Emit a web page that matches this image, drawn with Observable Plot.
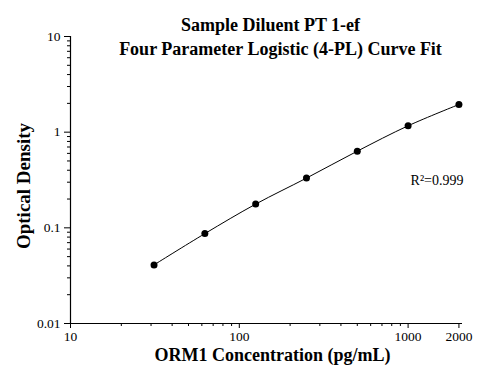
<!DOCTYPE html>
<html>
<head>
<meta charset="utf-8">
<script src="https://cdn.jsdelivr.net/npm/d3@7"></script>
<script src="https://cdn.jsdelivr.net/npm/@observablehq/plot@0.6"></script>
<style>
  html, body { margin: 0; padding: 0; background: #fff; }
</style>
</head>
<body>
<div id="chart"></div>
<script>
const titleLines = ["Sample Diluent PT 1-ef", "Four Parameter Logistic (4-PL) Curve Fit"];
const xLabel = "ORM1 Concentration (pg/mL)";
const yLabel = "Optical Density";
const rSquared = "R²=0.999";

const concentration = [31.25, 62.5, 125, 250, 500, 1000, 2000];
const opticalDensity = [0.041, 0.087, 0.177, 0.331, 0.633, 1.166, 1.946];

const xMajorTicks = [10, 100, 1000, 2000];
const xMinorTicks = [20, 30, 40, 50, 60, 70, 80, 90, 200, 300, 400, 500, 600, 700, 800, 900];
const yMajorTicks = [0.01, 0.1, 1, 10];
const yMinorTicks = [0.02, 0.03, 0.04, 0.05, 0.06, 0.07, 0.08, 0.09,
                     0.2, 0.3, 0.4, 0.5, 0.6, 0.7, 0.8, 0.9,
                     2, 3, 4, 5, 6, 7, 8, 9];

const data = concentration.map((c, i) => ({c, od: opticalDensity[i]}));

const chart = Plot.plot({
  width: 498,
  height: 381,
  marginLeft: 70,
  marginRight: 36,
  marginTop: 36,
  marginBottom: 58,
  style: {fontFamily: "'Liberation Serif', 'Times New Roman', serif", fontSize: "13.5px", color: "#000", background: "#fff"},
  x: {type: "log", domain: [10, 2100]},
  y: {type: "log", domain: [0.01, 10]},
  marks: [
    Plot.axisX({ticks: xMinorTicks, tickSize: 3, tickFormat: () => "", label: null}),
    Plot.axisX({ticks: xMajorTicks, tickSize: 5, tickPadding: 3, tickFormat: d => String(d), label: null, fontSize: 13.5}),
    Plot.axisY({ticks: yMinorTicks, tickSize: 3, tickFormat: () => "", label: null}),
    Plot.axisY({ticks: yMajorTicks, tickSize: 6, tickPadding: 4, tickFormat: d => String(d), label: null, fontSize: 13.5}),
    Plot.ruleY([0.01], {stroke: "#000", strokeWidth: 1.2}),
    Plot.ruleX([10], {stroke: "#000", strokeWidth: 1.2}),
    Plot.line(data, {x: "c", y: "od", curve: "catmull-rom", stroke: "#000", strokeWidth: 1}),
    Plot.dot(data, {x: "c", y: "od", r: 3.5, fill: "#000", stroke: null}),
    Plot.text([rSquared], {frameAnchor: "top-right", dx: 1, dy: 148, textAnchor: "end", lineAnchor: "bottom", fontSize: 14}),
    Plot.text([titleLines[0]], {frameAnchor: "top", dx: 4, dy: -6, lineAnchor: "bottom", fontSize: 18, fontWeight: "bold"}),
    Plot.text([titleLines[1]], {frameAnchor: "top", dx: 14, dy: 18, lineAnchor: "bottom", fontSize: 18, fontWeight: "bold"}),
    Plot.text([xLabel], {frameAnchor: "bottom", dx: 6, dy: 37, lineAnchor: "bottom", fontSize: 18, fontWeight: "bold"}),
    Plot.text([yLabel], {frameAnchor: "left", dx: -47, dy: 6, rotate: -90, textAnchor: "middle", lineAnchor: "middle", fontSize: 19, fontWeight: "bold"})
  ]
});
document.getElementById("chart").appendChild(chart);
</script>
</body>
</html>
